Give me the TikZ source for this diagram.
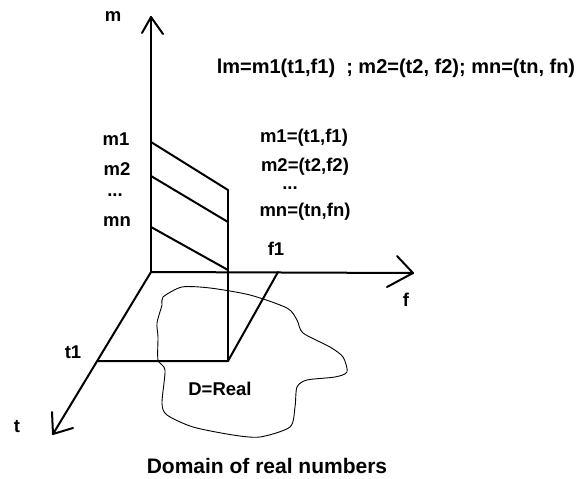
\documentclass[tikz,border=0pt]{standalone}
\usepackage{fontspec}
\setmainfont{Liberation Sans}
\begin{document}
\begin{tikzpicture}[x=1pt,y=-1pt,
  axis/.style={line width=2pt, line cap=round, line join=round},
  blob/.style={line width=0.9pt},
  lbl/.style={font=\fontsize{18.5}{18.5}\selectfont\bfseries, inner sep=0pt, anchor=center},
  bigl/.style={lbl, font=\fontsize{21}{21}\selectfont\bfseries},
  eql/.style={lbl, font=\fontsize{20}{20}\selectfont\bfseries}]
\useasboundingbox (0,0) rectangle (579,479);
\fill[white] (0,0) rectangle (579,479);
% key points
\coordinate (O) at (151,272);
\coordinate (mtop) at (151,17);
\coordinate (ftip) at (413,273);
\coordinate (ttip) at (53,434);
\coordinate (ma1) at (142,33);
\coordinate (ma2) at (163,34);
\coordinate (fa1) at (397,256);
\coordinate (fa2) at (387,287);
\coordinate (ta1) at (52,412);
\coordinate (ta2) at (73,428);
\coordinate (m1p) at (151,142);
\coordinate (m2p) at (151,176);
\coordinate (mnp) at (151,227);
\coordinate (v1) at (228,190);
\coordinate (v2) at (228,222);
\coordinate (vn) at (228,270);
\coordinate (vb) at (228,361);
\coordinate (f1p) at (278,272);
\coordinate (t1p) at (98,361);
% axes
\draw[axis] (O) -- (mtop);
\draw[axis] (O) -- (ftip);
\draw[axis] (O) -- (ttip);
\draw[axis] (ma1) -- (mtop) -- (ma2);
\draw[axis] (fa1) -- (ftip) -- (fa2);
\draw[axis] (ta1) -- (ttip) -- (ta2);
% m lines
\draw[axis] (m1p) -- (v1);
\draw[axis] (m2p) -- (v2);
\draw[axis] (mnp) -- (vn);
\draw[axis] (v1) -- (vb);
\draw[axis] (t1p) -- (vb) -- (f1p);
% domain blob
\draw[blob] plot[smooth cycle, tension=0.45] coordinates {
 (163,297) (182,287) (210,288) (250,295) (287,308) (297,320) (303,333)
 (330,347) (343,357) (347,372) (335,377) (307,380) (297,387) (295,407)
 (290,427) (260,437) (233,435) (193,427) (167,415) (162,403) (165,370)
 (158,360) (158,337) (157,323) (162,305)};
% labels
\node[lbl] (lm) at (113,17) {m};
\node[lbl] (lm1) at (116,139) {m1};
\node[lbl] (lm2) at (117,169) {m2};
\node[lbl] (ldots) at (115,195) {...};
\node[lbl] (lmn) at (117,222) {mn};
\node[lbl] (lf1) at (276,249) {f1};
\node[lbl] (lf) at (406,300) {f};
\node[lbl] (lt1) at (73,352) {t1};
\node[lbl] (lt) at (17,427) {t};
\node[lbl] (lD) at (220,389) {D=Real};
\node[bigl] (ldom) at (267,466) {Domain of real numbers};
\node[eql] (leq) at (396,68) {lm=m1(t1,f1) \ ; m2=(t2, f2); mn=(tn, fn)};
\node[lbl] (r1) at (304,138) {m1=(t1,f1)};
\node[lbl] (r2) at (305,167) {m2=(t2,f2)};
\node[lbl] (r3) at (290,188) {...};
\node[lbl] (r4) at (305,212) {mn=(tn,fn)};
\end{tikzpicture}
\end{document}
